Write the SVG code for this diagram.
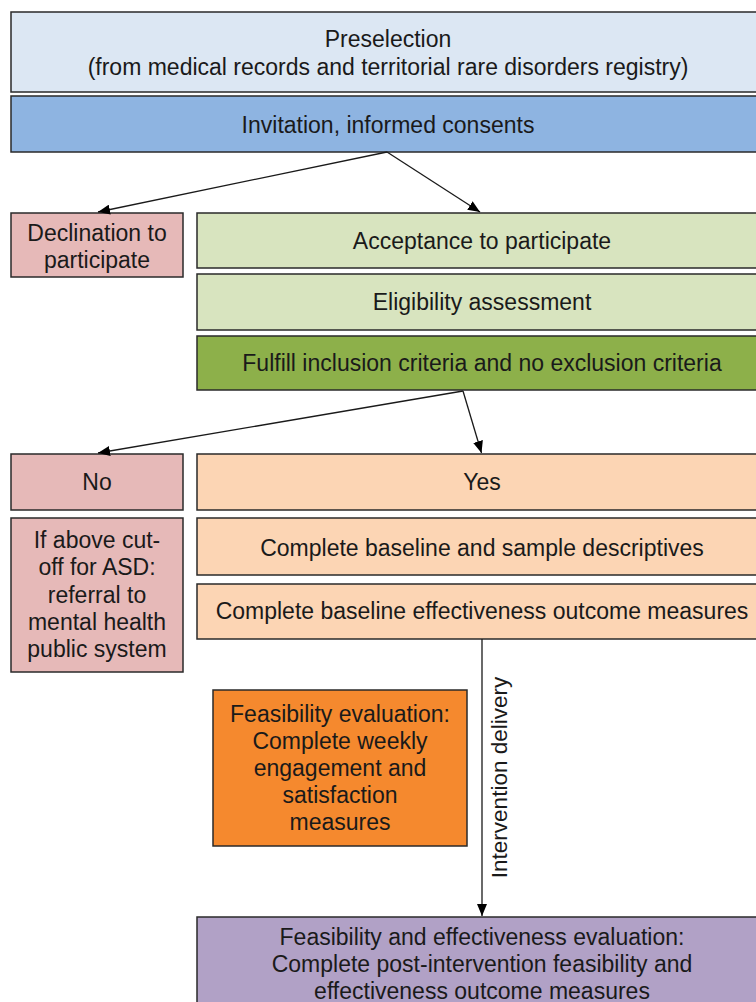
<svg xmlns="http://www.w3.org/2000/svg" width="756" height="1002" viewBox="0 0 756 1002">
<defs>
<style>
.box{stroke:#2a2a2a;stroke-width:1.5}
.t{font-family:"Liberation Sans",Arial,sans-serif;font-size:23px;fill:#1a1a1a;text-anchor:middle}
.c{stroke:#1a1a1a;stroke-width:1.3;fill:none;marker-end:url(#ah)}
.blue1{fill:#dce7f3}.blue2{fill:#8eb4e1}.pink{fill:#e6b9b8}.lg{fill:#d8e4bf}.dg{fill:#8db04a}.peach{fill:#fcd5b4}.orange{fill:#f5892e}.purple{fill:#b1a1c6}
</style>
<marker id="ah" viewBox="0 0 12 10" refX="12" refY="5" markerWidth="12" markerHeight="10" markerUnits="userSpaceOnUse" orient="auto">
<path d="M0,0 L12,5 L0,10 z" fill="#000"/>
</marker>
</defs>
<rect width="756" height="1002" fill="#fff"/>
<g id="preselection"><rect class="box blue1" x="11" y="12" width="760" height="80"/><text class="t" x="388" y="47">Preselection</text><text class="t" x="388" y="75">(from medical records and territorial rare disorders registry)</text></g>
<g id="invitation"><rect class="box blue2" x="11" y="96" width="760" height="56"/><text class="t" x="388" y="133">Invitation, informed consents</text></g>
<g id="declination"><rect class="box pink" x="11" y="213" width="172" height="64"/><text class="t" x="97" y="241">Declination to</text><text class="t" x="97" y="268">participate</text></g>
<g id="acceptance"><rect class="box lg" x="197" y="213" width="575" height="55"/><text class="t" x="482" y="249">Acceptance to participate</text></g>
<g id="eligibility"><rect class="box lg" x="197" y="274" width="575" height="56"/><text class="t" x="482" y="310">Eligibility assessment</text></g>
<g id="fulfill"><rect class="box dg" x="197" y="336" width="575" height="54"/><text class="t" x="482" y="371">Fulfill inclusion criteria and no exclusion criteria</text></g>
<g id="no"><rect class="box pink" x="11" y="454" width="172" height="56"/><text class="t" x="97" y="490">No</text></g>
<g id="yes"><rect class="box peach" x="197" y="454" width="575" height="56"/><text class="t" x="482" y="490">Yes</text></g>
<g id="referral"><rect class="box pink" x="11" y="518" width="172" height="154"/><text class="t" x="97" y="548">If above cut-</text><text class="t" x="97" y="575">off for ASD:</text><text class="t" x="97" y="603">referral to</text><text class="t" x="97" y="630">mental health</text><text class="t" x="97" y="657">public system</text></g>
<g id="baseline1"><rect class="box peach" x="197" y="518" width="575" height="57"/><text class="t" x="482" y="556">Complete baseline and sample descriptives</text></g>
<g id="baseline2"><rect class="box peach" x="197" y="584" width="575" height="55"/><text class="t" x="482" y="619">Complete baseline effectiveness outcome measures</text></g>
<g id="feasibility"><rect class="box orange" x="213" y="690" width="254" height="156"/><text class="t" x="340" y="722">Feasibility evaluation:</text><text class="t" x="340" y="749">Complete weekly</text><text class="t" x="340" y="776">engagement and</text><text class="t" x="340" y="803">satisfaction</text><text class="t" x="340" y="830">measures</text></g>
<g id="final"><rect class="box purple" x="197" y="917" width="575" height="100"/><text class="t" x="482" y="945">Feasibility and effectiveness evaluation:</text><text class="t" x="482" y="972">Complete post-intervention feasibility and</text><text class="t" x="482" y="999">effectiveness outcome measures</text></g>
<g id="connectors">
<path class="c" d="M387,152 L98,212"/>
<path class="c" d="M387,152 L480,212"/>
<path class="c" d="M463,391 L98,453"/>
<path class="c" d="M463,391 L481.5,453"/>
<path class="c" d="M482,639 L482,916"/>
<text class="t" transform="translate(507,777.5) rotate(-90)" style="font-size:22.5px">Intervention delivery</text>
</g>
</svg>
